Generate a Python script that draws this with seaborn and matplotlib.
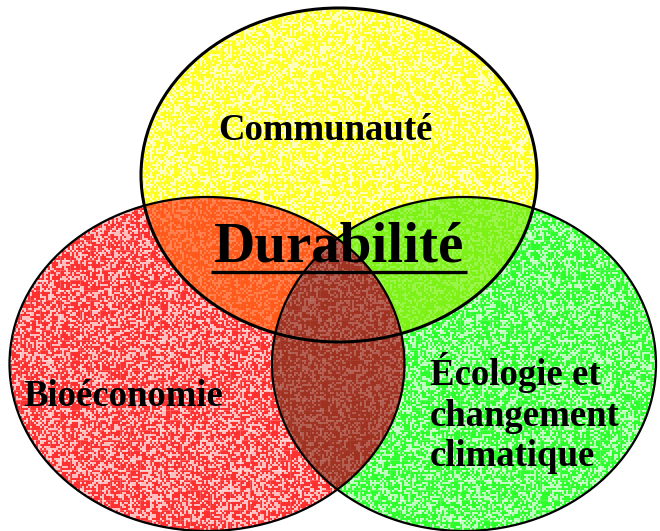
import numpy as np
import seaborn as sns
import matplotlib.pyplot as plt
from matplotlib.patches import Ellipse, PathPatch
from matplotlib.path import Path

# Venn circles (pixel coords of the picture, y grows downward)
names = ['Communauté', 'Bioéconomie', 'Écologie et\nchangement\nclimatique']
centers = [(339, 175), (207, 364), (464, 364)]
widths = [396, 395, 384]
heights = [334, 334, 334]
fills = ['#ffff1e', '#ff3030', '#2cff2c']
labelPos = [(326, 130), (123, 396), (430, 413)]
title = 'Durabilité'
titlePos = (339, 248)

# Overlap colours
colYR = '#ff5a1a'
colYG = '#7cf214'
colRG = '#a03222'

sns.set_style('white')
plt.rcParams['font.family'] = ['Liberation Serif', 'DejaVu Serif']

fig = plt.figure(figsize=(6.6, 5.31), dpi=100)
ax = fig.add_axes([0, 0, 1, 1])
ax.set_xlim(0, 660)
ax.set_ylim(531, 0)
ax.axis('off')

def ell(i, **kw):
    return Ellipse(centers[i], widths[i], heights[i], **kw)

# base fills
for i in range(3):
    ax.add_patch(ell(i, facecolor=fills[i], edgecolor='none', zorder=1))

# speckle texture (deterministic hash pattern, 2px blocks)
yy, xx = np.mgrid[0:531, 0:660]
bx, by = xx // 2, yy // 2
h = np.sin(bx * 12.9898 + by * 78.233) * 43758.5453
h = h - np.floor(h)
grid = (xx % 10 == 0) | (yy % 10 == 0)
union = Path.make_compound_path(*[ell(i).get_path().transformed(ell(i).get_patch_transform()) for i in range(3)])
clipPatch = ax.add_patch(PathPatch(union, facecolor='none', edgecolor='none'))

def texture(alphaSpot, alphaGrid, z):
    tex = np.zeros((531, 660, 4))
    tex[..., :3] = 1
    tex[..., 3] = np.where(h > 0.6, alphaSpot, 0) + np.where(grid, alphaGrid, 0)
    img = ax.imshow(tex, extent=(0, 660, 531, 0), interpolation='nearest', zorder=z)
    img.set_clip_path(clipPatch)

texture(0.6, 0.15, 2)

# yellow with red / green overlaps
p = ax.add_patch(ell(0, facecolor=colYR, edgecolor='none', zorder=3))
p.set_clip_path(ell(1, transform=ax.transData))
p = ax.add_patch(ell(0, facecolor=colYG, edgecolor='none', zorder=3))
p.set_clip_path(ell(2, transform=ax.transData))

# red-green overlap
p = ax.add_patch(ell(1, facecolor=colRG, edgecolor='none', zorder=5))
p.set_clip_path(ell(2, transform=ax.transData))

texture(0.22, 0.06, 5.5)
ax.set_aspect('auto')

# outlines
ax.add_patch(ell(0, facecolor='none', edgecolor='black', linewidth=2.2, zorder=6))
for i in [1, 2]:
    ax.add_patch(ell(i, facecolor='none', edgecolor='black', linewidth=1.6, zorder=6))

# labels
for i in range(3):
    ha = 'left' if i == 2 else 'center'
    ax.text(labelPos[i][0], labelPos[i][1], names[i], fontsize=26.5, fontweight='bold',
            color='black', ha=ha, va='center', linespacing=1.22, zorder=7)

t = ax.text(titlePos[0], titlePos[1], title, fontsize=41, fontweight='bold', color='black',
            ha='center', va='center', zorder=7)
fig.canvas.draw()
bb = t.get_window_extent().transformed(ax.transData.inverted())
x0, x1 = sorted([bb.x0, bb.x1])
ax.plot([x0 - 3, x1 + 3], [titlePos[1] + 24, titlePos[1] + 24], color='black', linewidth=2.4,
        solid_capstyle='butt', zorder=7)

fig.savefig('out.png', dpi=100)
